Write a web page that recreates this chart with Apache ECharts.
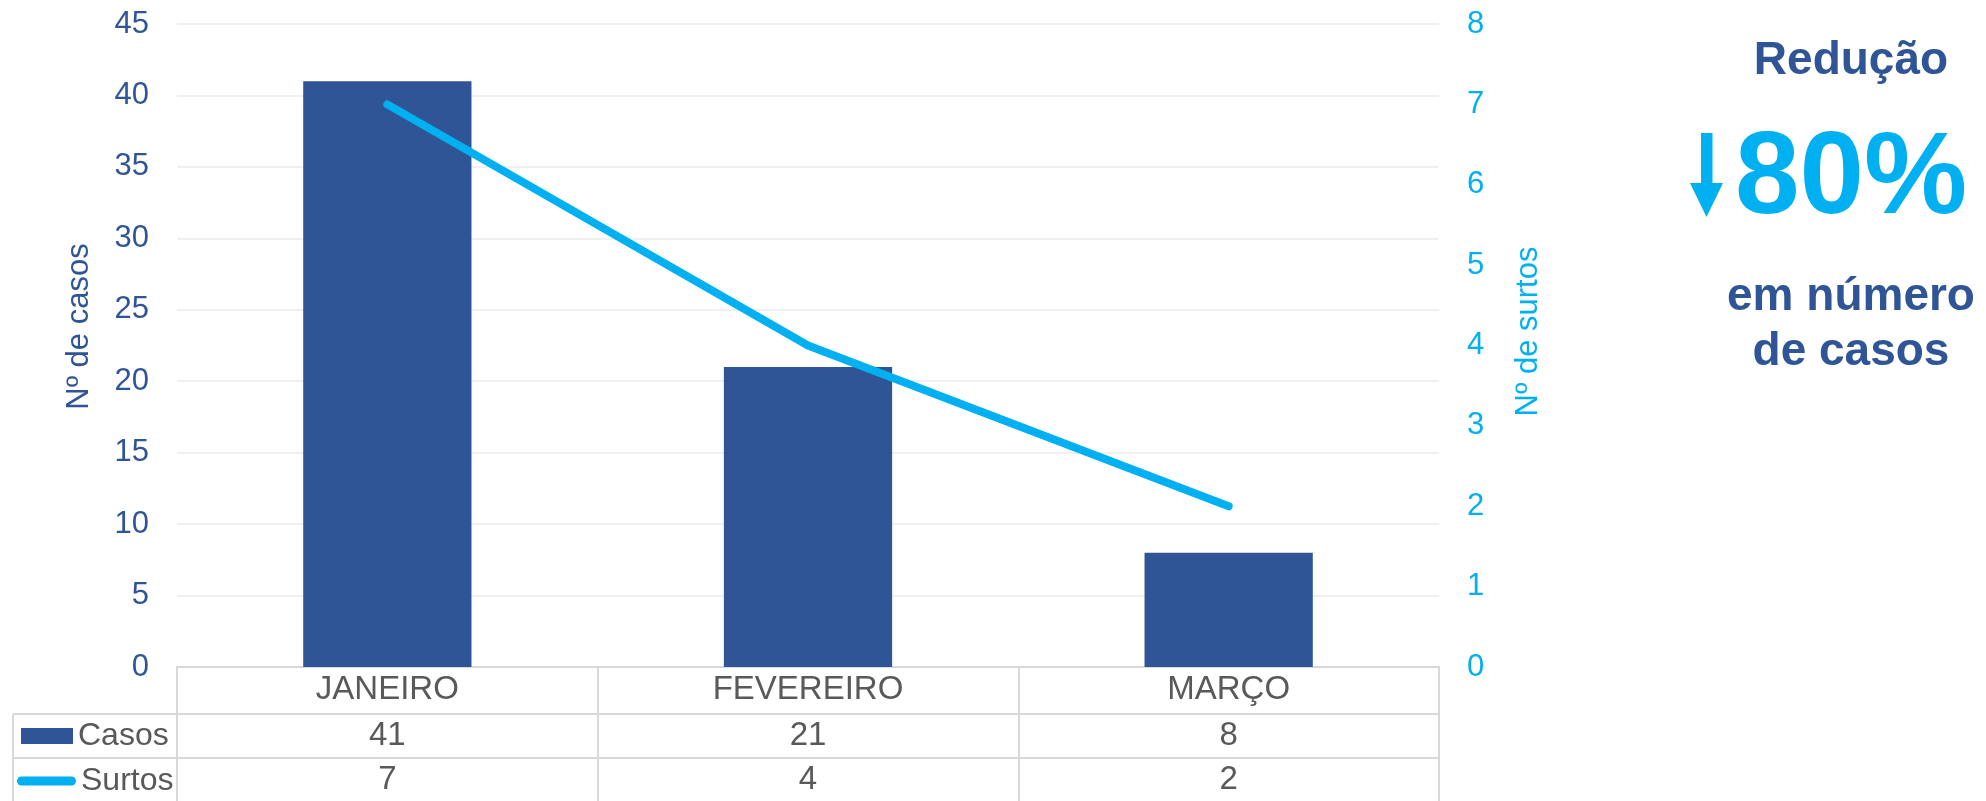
<!DOCTYPE html>
<html><head><meta charset="utf-8">
<script src="https://cdn.jsdelivr.net/npm/echarts@6/dist/echarts.min.js"></script>
<style>html,body{margin:0;padding:0;background:#fff}#c{width:1986px;height:801px}</style>
</head><body><div id="c"></div>
<script>
// ---- data ----
const categories = ['JANEIRO', 'FEVEREIRO', 'MARÇO'];
const casos = [41, 21, 8];
const surtos = [7, 4, 2];
const casosAxis = { min: 0, max: 45, step: 5 };
const surtosAxis = { min: 0, max: 8, step: 1 };
const seriesNames = ['Casos', 'Surtos'];

// ---- style ----
const FONT = '"Liberation Sans", Arial, sans-serif';
const DARK = '#2F5597', LIGHT = '#00B0F0', GRAY = '#595959', BORDER = '#D9D9D9';
const FS = 31, TFS = 33, LFS = 32;

const chart = echarts.init(document.getElementById('c'), null, { renderer: 'canvas' });

function tableAxis(data, offset, tickLen, margin) {
  return {
    type: 'category', data: data, position: 'bottom', offset: offset, gridIndex: 0,
    axisLine: { show: true, onZero: false, lineStyle: { color: BORDER, width: 2 } },
    axisTick: { show: true, length: tickLen, lineStyle: { color: BORDER, width: 2 } },
    axisLabel: { color: GRAY, fontSize: TFS, fontFamily: FONT, margin: margin, verticalAlign: 'middle', interval: 0 },
    splitLine: { show: false }
  };
}

const option = {
  backgroundColor: '#fff',
  animation: false,
  textStyle: { fontFamily: FONT },
  grid: { left: 177, right: 547, top: 24, bottom: 134, outerBoundsMode: 'none', containLabel: false },
  legend: [
    { data: [{ name: seriesNames[0], icon: 'rect' }], left: 21, top: 720, padding: 0,
      itemWidth: 52, itemHeight: 16, selectedMode: false,
      textStyle: { color: GRAY, fontSize: LFS, fontFamily: FONT } },
    { data: [{ name: seriesNames[1], icon: 'path://M4.5,0H54.5A4.5,4.5,0,0,1,54.5,9H4.5A4.5,4.5,0,0,1,4.5,0Z' }],
      left: 17, top: 765, padding: 0,
      itemWidth: 59, itemHeight: 9, selectedMode: false,
      textStyle: { color: GRAY, fontSize: LFS, fontFamily: FONT } }
  ],
  xAxis: [
    tableAxis(categories, 0, 47, 23),
    tableAxis(casos.map(String), 47, 44, 22),
    tableAxis(surtos.map(String), 91, 44, 22)
  ],
  yAxis: [
    { type: 'value', min: casosAxis.min, max: casosAxis.max, interval: casosAxis.step, position: 'left',
      axisLine: { show: false }, axisTick: { show: false },
      axisLabel: { color: DARK, fontSize: FS, fontFamily: FONT, margin: 28 },
      splitLine: { show: true, lineStyle: { color: '#F0F0F0', width: 2 } },
      name: 'Nº de casos', nameLocation: 'middle', nameRotate: 90, nameGap: 82,
      nameTextStyle: { color: DARK, fontSize: FS, fontFamily: FONT, padding: [0, 0, 0, 38] } },
    { type: 'value', min: surtosAxis.min, max: surtosAxis.max, interval: surtosAxis.step, position: 'right',
      axisLine: { show: false }, axisTick: { show: false },
      axisLabel: { color: LIGHT, fontSize: FS, fontFamily: FONT, margin: 28 },
      splitLine: { show: false },
      name: 'Nº de surtos', nameLocation: 'middle', nameRotate: 90, nameGap: 74,
      nameTextStyle: { color: LIGHT, fontSize: FS, fontFamily: FONT, padding: [0, 0, 0, 28] } }
  ],
  series: [
    { name: seriesNames[0], type: 'bar', data: casos, xAxisIndex: 0, yAxisIndex: 0,
      barWidth: '40%', itemStyle: { color: DARK } },
    { name: seriesNames[1], type: 'line', data: surtos, xAxisIndex: 0, yAxisIndex: 1,
      symbol: 'none', showSymbol: false, itemStyle: { color: LIGHT },
      lineStyle: { color: LIGHT, width: 8, cap: 'round', join: 'round' } }
  ],
  graphic: [
    { type: 'line', shape: { x1: 13, y1: 714, x2: 177, y2: 714 }, style: { stroke: BORDER, lineWidth: 2 } },
    { type: 'line', shape: { x1: 13, y1: 758, x2: 177, y2: 758 }, style: { stroke: BORDER, lineWidth: 2 } },
    { type: 'line', shape: { x1: 13, y1: 714, x2: 13, y2: 801 }, style: { stroke: BORDER, lineWidth: 2 } },
    { type: 'text', x: 1851, y: 61, style: { text: 'Redução', fill: DARK, font: 'bold 46px ' + FONT, align: 'center', verticalAlign: 'middle' } },
    { type: 'rect', shape: { x: 1701, y: 133, width: 11.5, height: 52 }, style: { fill: LIGHT } },
    { type: 'polygon', shape: { points: [[1690, 183], [1723, 183], [1706.5, 217]] }, style: { fill: LIGHT } },
    { type: 'text', x: 1851, y: 181, style: { text: '80%', fill: LIGHT, font: 'bold 116px ' + FONT, align: 'center', verticalAlign: 'middle' } },
    { type: 'text', x: 1851, y: 297, style: { text: 'em número', fill: DARK, font: 'bold 46px ' + FONT, align: 'center', verticalAlign: 'middle' } },
    { type: 'text', x: 1851, y: 352, style: { text: 'de casos', fill: DARK, font: 'bold 46px ' + FONT, align: 'center', verticalAlign: 'middle' } }
  ]
};
chart.setOption(option);
</script></body></html>
